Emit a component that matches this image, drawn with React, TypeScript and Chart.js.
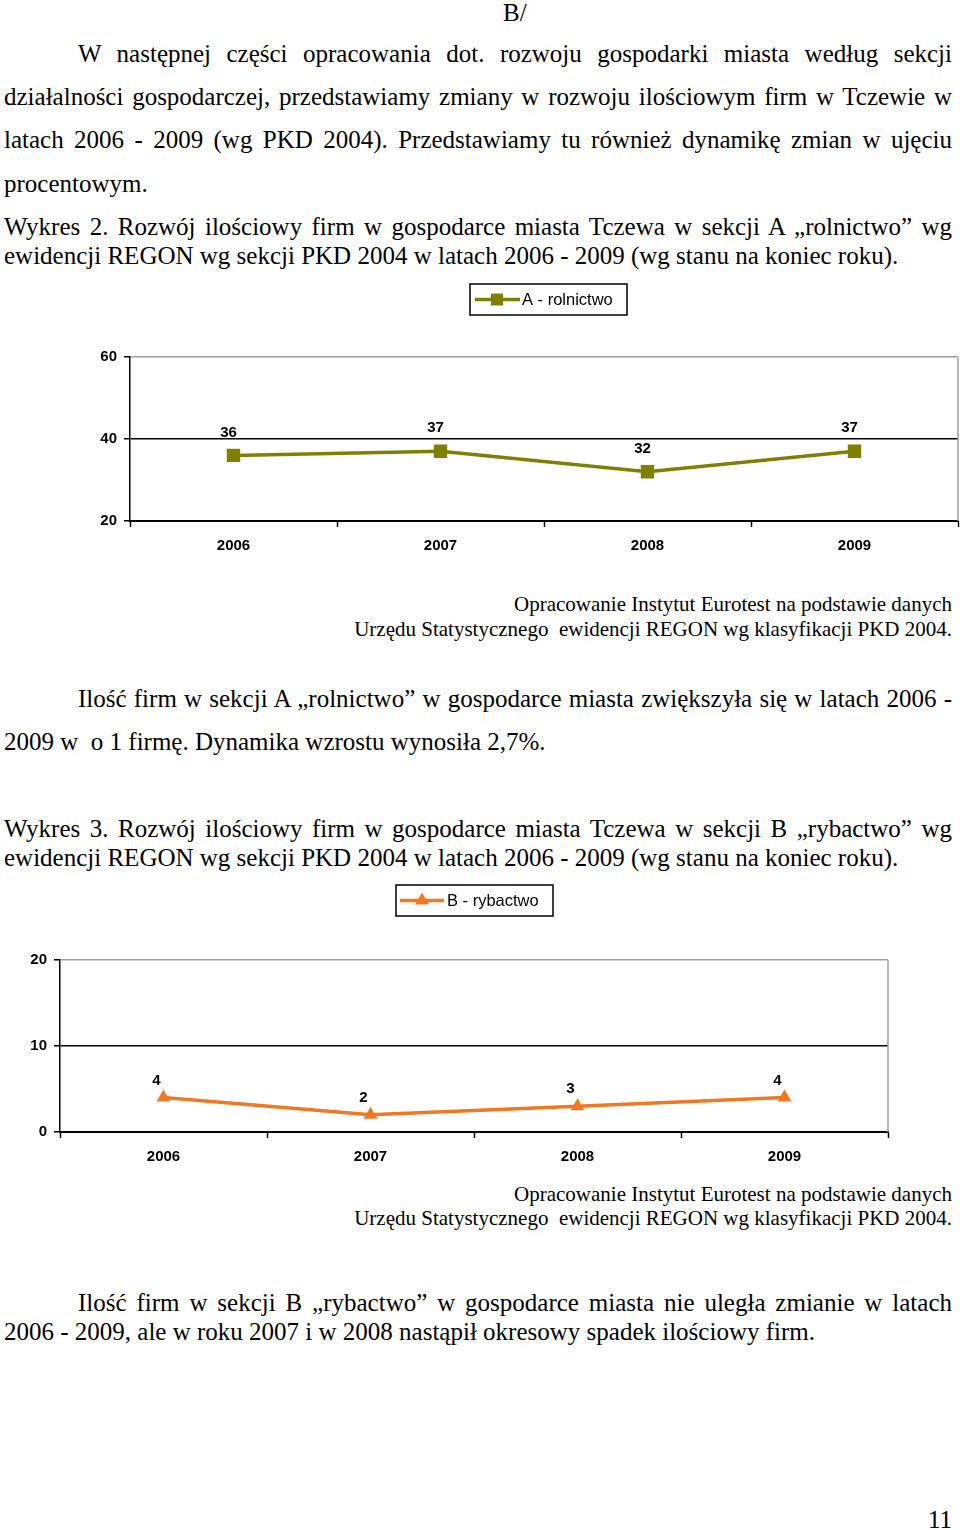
import React, { useEffect, useRef } from 'react';
import { Chart, registerables } from 'chart.js';

Chart.register(...registerables);

const years = ['2006', '2007', '2008', '2009'];
const rolnictwo = [36, 37, 32, 37];
const rybactwo = [4, 2, 3, 4];
const axisA = { min: 20, max: 60, step: 20 };
const axisB = { min: 0, max: 20, step: 10 };

const CHART_FONT = "'Liberation Sans Narrow', 'Arial Narrow', 'Liberation Sans', Arial, sans-serif";
const SERIF = "'Liberation Serif', 'Times New Roman', serif";

type LegendBox = { x: number; y: number; w: number; h: number; lineX1: number; lineX2: number; markX: number; textX: number };

type LineChartProps = {
  left: number; top: number; width: number; height: number;
  labels: string[]; values: number[]; name: string; color: string;
  pointStyle: 'rect' | 'triangle'; radius: number;
  axis: { min: number; max: number; step: number };
  pad: { top: number; right: number }; yWidth: number; xHeight: number;
  legend: LegendBox; labelDx: number; labelDy: number;
};

function LineChart(p: LineChartProps) {
  const ref = useRef<HTMLCanvasElement | null>(null);
  useEffect(() => {
    if (!ref.current) return;
    const legendPlugin = {
      id: 'boxLegend',
      afterDraw(chart: any) {
        const ctx = chart.ctx;
        const L = p.legend;
        ctx.save();
        ctx.strokeStyle = '#000';
        ctx.lineWidth = 1.5;
        ctx.strokeRect(L.x, L.y, L.w, L.h);
        const cy = L.y + L.h / 2;
        ctx.strokeStyle = p.color;
        ctx.lineWidth = 3.5;
        ctx.beginPath();
        ctx.moveTo(L.lineX1, cy);
        ctx.lineTo(L.lineX2, cy);
        ctx.stroke();
        ctx.fillStyle = p.color;
        ctx.beginPath();
        if (p.pointStyle === 'rect') {
          ctx.rect(L.markX - 6, cy - 6, 12, 12);
        } else {
          ctx.moveTo(L.markX, cy - 8);
          ctx.lineTo(L.markX + 7, cy + 4);
          ctx.lineTo(L.markX - 7, cy + 4);
          ctx.closePath();
        }
        ctx.fill();
        ctx.fillStyle = '#000';
        ctx.font = "16.5px 'Liberation Sans', Arial, sans-serif";
        ctx.textBaseline = 'middle';
        ctx.textAlign = 'left';
        ctx.fillText(p.name, L.textX, cy + 1);
        const ca = chart.chartArea;
        ctx.strokeStyle = '#a0a0a0';
        ctx.lineWidth = 1.5;
        ctx.beginPath();
        ctx.moveTo(ca.right, ca.top);
        ctx.lineTo(ca.right, ca.bottom);
        ctx.stroke();
        ctx.restore();
      },
      afterDatasetsDraw(chart: any) {
        const ctx = chart.ctx;
        const meta = chart.getDatasetMeta(0);
        const data = chart.data.datasets[0].data;
        ctx.save();
        ctx.fillStyle = '#000';
        ctx.font = `bold 15px ${CHART_FONT}`;
        ctx.textAlign = 'center';
        ctx.textBaseline = 'middle';
        meta.data.forEach((el: any, i: number) => {
          ctx.fillText(String(data[i]), el.x + p.labelDx, el.y + p.labelDy);
        });
        ctx.restore();
      },
    };
    const chart = new Chart(ref.current, {
      type: 'line',
      data: {
        labels: p.labels,
        datasets: [
          {
            label: p.name,
            data: p.values,
            borderColor: p.color,
            backgroundColor: p.color,
            borderWidth: 3.5,
            pointStyle: p.pointStyle,
            pointRadius: p.radius,
            pointBackgroundColor: p.color,
            pointBorderColor: p.color,
            pointBorderWidth: 0,
            tension: 0,
          },
        ],
      },
      options: {
        responsive: false,
        animation: false,
        maintainAspectRatio: false,
        layout: { padding: { top: p.pad.top, right: p.pad.right, left: 0, bottom: 0 } },
        plugins: { legend: { display: false }, tooltip: { enabled: false }, title: { display: false } },
        scales: {
          x: {
            type: 'category',
            offset: true,
            grid: {
              offset: true,
              drawOnChartArea: false,
              drawTicks: true,
              tickLength: 6,
              tickColor: '#000',
              tickWidth: 1.5,
            },
            border: { color: '#000', width: 2 },
            ticks: {
              color: '#000',
              font: { family: CHART_FONT, size: 15, weight: 'bold' },
              padding: 10,
              maxRotation: 0,
            },
            afterFit: (a: any) => { a.height = p.xHeight; },
          },
          y: {
            min: p.axis.min,
            max: p.axis.max,
            grid: {
              color: (c: any) => (c.tick && c.tick.value === p.axis.max ? '#a0a0a0' : '#000'),
              lineWidth: 1.5,
              tickLength: 6,
              tickColor: '#000',
            },
            border: { color: '#000', width: 1.5 },
            ticks: {
              stepSize: p.axis.step,
              color: '#000',
              font: { family: CHART_FONT, size: 15, weight: 'bold' },
              padding: 7,
            },
            afterFit: (a: any) => { a.width = p.yWidth; },
          },
        },
      },
      plugins: [legendPlugin],
    } as any);
    return () => chart.destroy();
  }, []);
  return (
    <canvas
      ref={ref}
      width={p.width}
      height={p.height}
      style={{ position: 'absolute', left: p.left, top: p.top, width: p.width, height: p.height }}
    />
  );
}

type LineSpec = { text: string; left: number; right?: number; top: number; justify?: boolean; size?: number; alignRight?: boolean };

const BODY = 25;
const SRC = 21;

const lines: LineSpec[] = [
  { text: 'B/', left: 503, top: -1 },
  { text: 'W następnej części opracowania dot. rozwoju gospodarki miasta według sekcji', left: 78, right: 952, top: 40, justify: true },
  { text: 'działalności gospodarczej, przedstawiamy zmiany w rozwoju ilościowym firm w Tczewie w', left: 4, right: 952, top: 83, justify: true },
  { text: 'latach 2006 - 2009 (wg PKD 2004). Przedstawiamy tu również dynamikę zmian w ujęciu', left: 4, right: 952, top: 126, justify: true },
  { text: 'procentowym.', left: 4, top: 170 },
  { text: 'Wykres 2. Rozwój ilościowy firm w gospodarce miasta Tczewa w sekcji A „rolnictwo”  wg', left: 4, right: 952, top: 213, justify: true },
  { text: 'ewidencji REGON wg sekcji PKD 2004 w latach 2006 - 2009 (wg stanu na koniec roku).', left: 4, top: 242 },
  { text: 'Opracowanie Instytut Eurotest na podstawie danych', left: 300, right: 952, top: 592, size: SRC, alignRight: true },
  { text: 'Urzędu Statystycznego  ewidencji REGON wg klasyfikacji PKD 2004.', left: 300, right: 952, top: 617, size: SRC, alignRight: true },
  { text: 'Ilość firm w sekcji A „rolnictwo” w gospodarce miasta zwiększyła się w latach 2006 -', left: 78, right: 952, top: 685, justify: true },
  { text: '2009 w  o 1 firmę. Dynamika wzrostu wynosiła 2,7%.', left: 4, top: 728 },
  { text: 'Wykres 3. Rozwój ilościowy firm w gospodarce miasta Tczewa w sekcji B „rybactwo” wg', left: 4, right: 952, top: 815, justify: true },
  { text: 'ewidencji REGON wg sekcji PKD 2004 w latach 2006 - 2009 (wg stanu na koniec roku).', left: 4, top: 844 },
  { text: 'Opracowanie Instytut Eurotest na podstawie danych', left: 300, right: 952, top: 1182, size: SRC, alignRight: true },
  { text: 'Urzędu Statystycznego  ewidencji REGON wg klasyfikacji PKD 2004.', left: 300, right: 952, top: 1206, size: SRC, alignRight: true },
  { text: 'Ilość firm w sekcji B „rybactwo” w gospodarce miasta nie uległa zmianie  w latach', left: 78, right: 952, top: 1289, justify: true },
  { text: '2006 - 2009, ale w roku 2007 i w 2008 nastąpił okresowy spadek ilościowy firm.', left: 4, top: 1318 },
  { text: '11', left: 900, right: 952, top: 1506, alignRight: true },
];

export default function App() {
  return (
    <div style={{ position: 'absolute', left: 0, top: 0, width: 960, height: 1530, background: '#fff', overflow: 'hidden' }}>
      {lines.map((l, i) => (
        <div
          key={i}
          style={{
            position: 'absolute',
            left: l.left,
            top: l.top,
            width: l.right !== undefined ? l.right - l.left : undefined,
            fontFamily: SERIF,
            fontSize: l.size || BODY,
            lineHeight: 1.15,
            color: '#000',
            whiteSpace: l.justify ? 'normal' : 'pre',
            textAlign: l.justify ? 'justify' : l.alignRight ? 'right' : 'left',
            textAlignLast: l.justify ? 'justify' : l.alignRight ? 'right' : 'left',
          } as any}
        >
          {l.text}
        </div>
      ))}
      <LineChart
        left={90} top={280} width={880} height={280}
        labels={years} values={rolnictwo} name="A - rolnictwo" color="#808000"
        pointStyle="rect" radius={9.5}
        axis={axisA} pad={{ top: 77, right: 12 }} yWidth={40} xHeight={39}
        legend={{ x: 380, y: 4, w: 157, h: 31, lineX1: 385, lineX2: 430, markX: 407, textX: 432 }}
        labelDx={-5} labelDy={-23}
      />
      <LineChart
        left={20} top={880} width={880} height={290}
        labels={years} values={rybactwo} name="B - rybactwo" color="#f07820"
        pointStyle="triangle" radius={8}
        axis={axisB} pad={{ top: 80, right: 12 }} yWidth={40} xHeight={38}
        legend={{ x: 376, y: 5, w: 157, h: 31, lineX1: 380, lineX2: 424, markX: 402, textX: 427 }}
        labelDx={-7} labelDy={-17}
      />
    </div>
  );
}
